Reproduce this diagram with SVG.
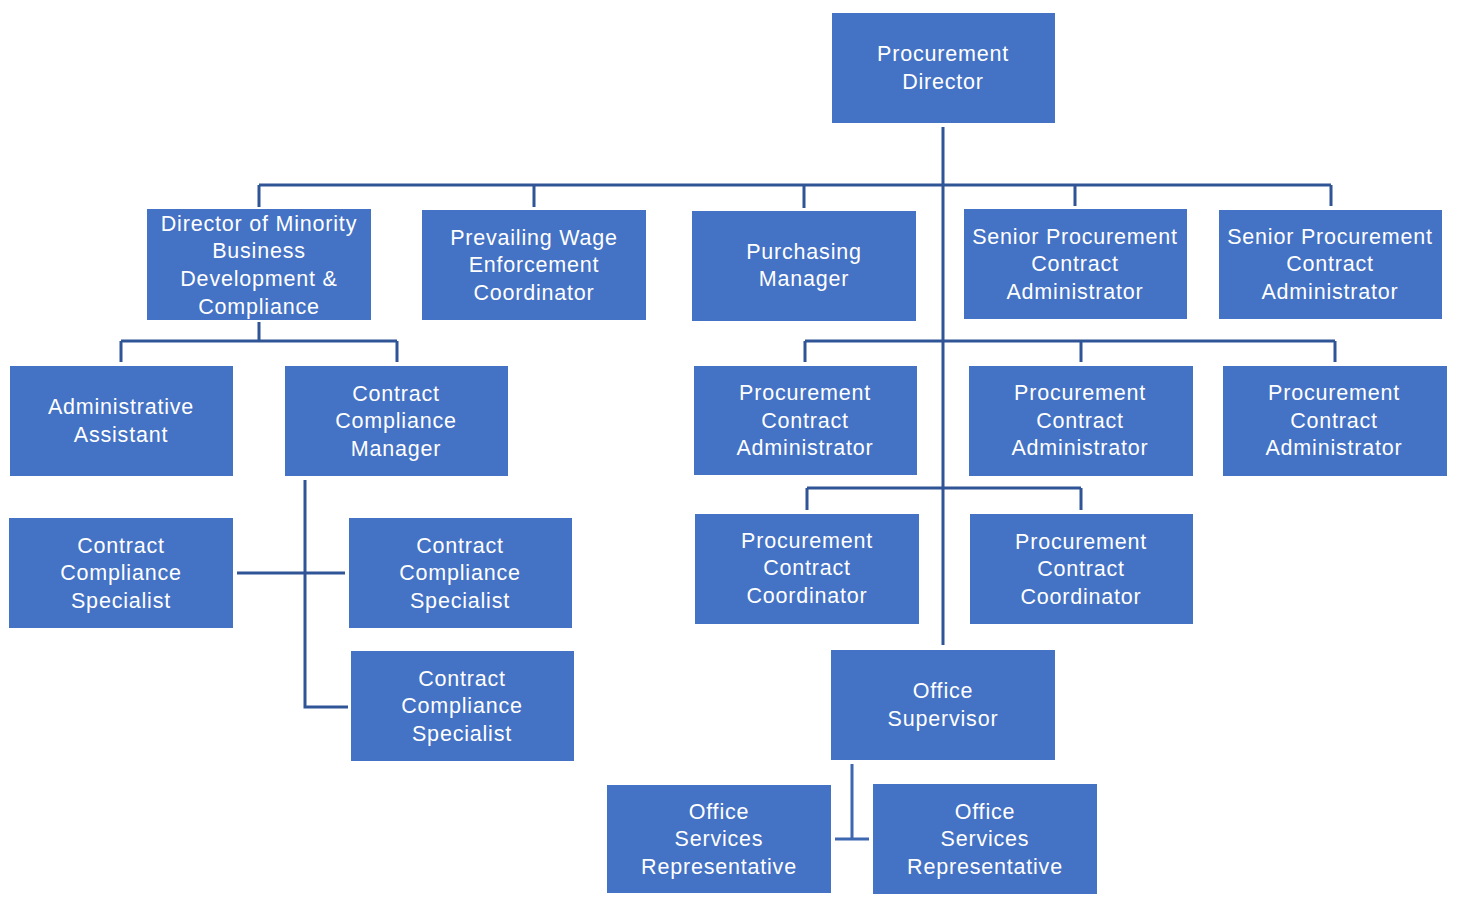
<svg xmlns="http://www.w3.org/2000/svg" width="1464" height="904" viewBox="0 0 1464 904">
<style>
.box{fill:#4472C4;}
.t{font-family:"Liberation Sans",Arial,sans-serif;font-size:21.5px;letter-spacing:0.8px;fill:#FFFFFF;text-anchor:middle;}
.c{stroke:#2F5597;stroke-width:3;fill:none;}
.c2{stroke:#3E67B1;stroke-width:3;fill:none;}
</style>
<rect width="1464" height="904" fill="#FFFFFF"/>
<g id="connectors">
<path class="c" d="M943 127 V645"/>
<path class="c" d="M259 185 H1331"/>
<path class="c" d="M259 185 V207 M534 185 V207 M804 185 V208 M1075 185 V206 M1331 185 V206"/>
<path class="c" d="M805 341 H1335 M805 341 V362 M1081 341 V362 M1335 341 V362"/>
<path class="c" d="M807 488 H1081 M807 488 V510 M1081 488 V510"/>
<path class="c" d="M259 322 V341 M121 341 H397 M121 341 V362 M397 341 V362"/>
<path class="c" d="M305 480 V707 H348 M237 573 H345"/>
<path class="c2" d="M852 764 V839 M835 839 H869"/>
</g>
<g id="n1"><rect class="box" x="832" y="13" width="223" height="110"/><text class="t" x="943" y="61">Procurement</text><text class="t" x="943" y="89">Director</text></g>
<g id="n2"><rect class="box" x="147" y="209" width="224" height="111"/><text class="t" x="259" y="231">Director of Minority</text><text class="t" x="259" y="258">Business</text><text class="t" x="259" y="286">Development &amp;</text><text class="t" x="259" y="314">Compliance</text></g>
<g id="n3"><rect class="box" x="422" y="210" width="224" height="110"/><text class="t" x="534" y="245">Prevailing Wage</text><text class="t" x="534" y="272">Enforcement</text><text class="t" x="534" y="300">Coordinator</text></g>
<g id="n4"><rect class="box" x="692" y="211" width="224" height="110"/><text class="t" x="804" y="259">Purchasing</text><text class="t" x="804" y="286">Manager</text></g>
<g id="n5"><rect class="box" x="964" y="209" width="223" height="110"/><text class="t" x="1075" y="244">Senior Procurement</text><text class="t" x="1075" y="271">Contract</text><text class="t" x="1075" y="299">Administrator</text></g>
<g id="n6"><rect class="box" x="1219" y="210" width="223" height="109"/><text class="t" x="1330" y="244">Senior Procurement</text><text class="t" x="1330" y="271">Contract</text><text class="t" x="1330" y="299">Administrator</text></g>
<g id="n7"><rect class="box" x="10" y="366" width="223" height="110"/><text class="t" x="121" y="414">Administrative</text><text class="t" x="121" y="442">Assistant</text></g>
<g id="n8"><rect class="box" x="285" y="366" width="223" height="110"/><text class="t" x="396" y="401">Contract</text><text class="t" x="396" y="428">Compliance</text><text class="t" x="396" y="456">Manager</text></g>
<g id="n9"><rect class="box" x="694" y="366" width="223" height="109"/><text class="t" x="805" y="400">Procurement</text><text class="t" x="805" y="428">Contract</text><text class="t" x="805" y="455">Administrator</text></g>
<g id="n10"><rect class="box" x="969" y="366" width="224" height="110"/><text class="t" x="1080" y="400">Procurement</text><text class="t" x="1080" y="428">Contract</text><text class="t" x="1080" y="455">Administrator</text></g>
<g id="n11"><rect class="box" x="1223" y="366" width="224" height="110"/><text class="t" x="1334" y="400">Procurement</text><text class="t" x="1334" y="428">Contract</text><text class="t" x="1334" y="455">Administrator</text></g>
<g id="n12"><rect class="box" x="9" y="518" width="224" height="110"/><text class="t" x="121" y="553">Contract</text><text class="t" x="121" y="580">Compliance</text><text class="t" x="121" y="608">Specialist</text></g>
<g id="n13"><rect class="box" x="349" y="518" width="223" height="110"/><text class="t" x="460" y="553">Contract</text><text class="t" x="460" y="580">Compliance</text><text class="t" x="460" y="608">Specialist</text></g>
<g id="n14"><rect class="box" x="351" y="651" width="223" height="110"/><text class="t" x="462" y="686">Contract</text><text class="t" x="462" y="713">Compliance</text><text class="t" x="462" y="741">Specialist</text></g>
<g id="n15"><rect class="box" x="695" y="514" width="224" height="110"/><text class="t" x="807" y="548">Procurement</text><text class="t" x="807" y="575">Contract</text><text class="t" x="807" y="603">Coordinator</text></g>
<g id="n16"><rect class="box" x="970" y="514" width="223" height="110"/><text class="t" x="1081" y="549">Procurement</text><text class="t" x="1081" y="576">Contract</text><text class="t" x="1081" y="604">Coordinator</text></g>
<g id="n17"><rect class="box" x="831" y="650" width="224" height="110"/><text class="t" x="943" y="698">Office</text><text class="t" x="943" y="726">Supervisor</text></g>
<g id="n18"><rect class="box" x="607" y="785" width="224" height="108"/><text class="t" x="719" y="819">Office</text><text class="t" x="719" y="846">Services</text><text class="t" x="719" y="874">Representative</text></g>
<g id="n19"><rect class="box" x="873" y="784" width="224" height="110"/><text class="t" x="985" y="819">Office</text><text class="t" x="985" y="846">Services</text><text class="t" x="985" y="874">Representative</text></g>
</svg>
